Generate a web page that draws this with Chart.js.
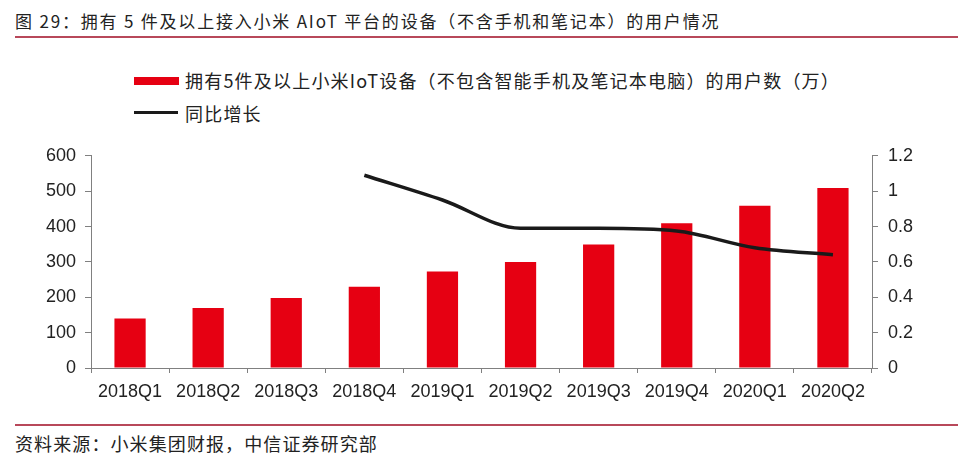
<!DOCTYPE html>
<html>
<head>
<meta charset="utf-8">
<script src="https://cdn.jsdelivr.net/npm/chart.js@4.4.1/dist/chart.umd.min.js"></script>
<style>
  body { margin: 0; background: #fff; width: 967px; height: 475px; overflow: hidden; position: relative;
         font-family: "Noto Sans CJK SC", "Liberation Sans", sans-serif; color: #222; }
  .abs { position: absolute; white-space: nowrap; }
  #title { left: 15px; top: 9px; font-size: 17px; line-height: 24px; letter-spacing: 1.8px; }
  .rule { position: absolute; left: 15px; width: 943px; height: 2px; background: #b8485a; }
  #footer { left: 15px; top: 430px; font-size: 18px; line-height: 26px; letter-spacing: 1.1px; }
  .leg { font-size: 18px; line-height: 24px; letter-spacing: 1.2px; }
  #chartBox { position: absolute; left: 0; top: 135px; width: 967px; height: 275px; }
</style>
</head>
<body>
<div id="title" class="abs">图 29：拥有 5 件及以上接入小米 AIoT 平台的设备（不含手机和笔记本）的用户情况</div>
<div class="rule" style="top:36px"></div>

<div class="abs" style="left:134px; top:77px; width:45px; height:8px; background:#e60012"></div>
<div class="abs leg" style="left:185px; top:68px">拥有5件及以上小米IoT设备（不包含智能手机及笔记本电脑）的用户数（万）</div>
<div class="abs" style="left:134px; top:111px; width:44px; height:3px; background:#1a1a1a"></div>
<div class="abs leg" style="left:185px; top:101px">同比增长</div>

<div id="chartBox"><canvas id="myChart"></canvas></div>

<div class="rule" style="top:424px"></div>
<div id="footer" class="abs">资料来源：小米集团财报，中信证券研究部</div>

<script>
// data
var quarters = ['2018Q1', '2018Q2', '2018Q3', '2018Q4', '2019Q1', '2019Q2', '2019Q3', '2019Q4', '2020Q1', '2020Q2'];
var users = [140, 170, 198, 230, 273, 300, 349, 409, 459, 509];   // 万
var yoy = [null, null, null, 1.09, 0.95, 0.79, 0.79, 0.775, 0.68, 0.64];
var leftTicks = [0, 100, 200, 300, 400, 500, 600];
var rightTicks = [0, 0.2, 0.4, 0.6, 0.8, 1, 1.2];

var tickFont = { family: '"Liberation Sans", Arial, sans-serif', size: 18 };
var axisGray = '#808080';

var ctx = document.getElementById('myChart').getContext('2d');
var chart = new Chart(ctx, {
    type: 'bar',
    data: {
        labels: quarters,
        datasets: [{
            type: 'line',
            label: '同比增长',
            data: yoy,
            yAxisID: 'y1',
            borderColor: '#1a1a1a',
            borderWidth: 3.5,
            pointRadius: 0,
            cubicInterpolationMode: 'monotone',
            order: 0
        }, {
            type: 'bar',
            label: '拥有5件及以上小米IoT设备（不包含智能手机及笔记本电脑）的用户数（万）',
            data: users,
            yAxisID: 'y',
            backgroundColor: '#e60012',
            barPercentage: 0.4,
            categoryPercentage: 1.0,
            order: 1
        }]
    },
    options: {
        responsive: true,
        maintainAspectRatio: false,
        animation: false,
        layout: { padding: { top: 10, left: 0, right: 0, bottom: 0 } },
        plugins: { legend: { display: false }, tooltip: { enabled: false } },
        scales: {
            x: {
                offset: true,
                grid: { offset: true, drawOnChartArea: false, tickLength: 5, color: axisGray },
                border: { color: axisGray },
                ticks: { font: tickFont, color: '#222', padding: 8, maxRotation: 0 },
                afterFit: function (s) { s.height = 42; }
            },
            y: {
                position: 'left',
                min: 0, max: 600,
                afterBuildTicks: function (s) { s.ticks = leftTicks.map(function (v) { return { value: v }; }); },
                grid: { drawOnChartArea: false, tickLength: 6, color: axisGray },
                border: { color: axisGray },
                ticks: { font: tickFont, color: '#222', padding: 9 },
                afterFit: function (s) { s.width = 91; }
            },
            y1: {
                position: 'right',
                min: 0, max: 1.2,
                afterBuildTicks: function (s) { s.ticks = rightTicks.map(function (v) { return { value: v }; }); },
                grid: { drawOnChartArea: false, tickLength: 6, color: axisGray },
                border: { color: axisGray },
                ticks: { font: tickFont, color: '#222', padding: 10, callback: function (v) { return String(v); } },
                afterFit: function (s) { s.width = 95; }
            }
        }
    }
});
</script>
</body>
</html>
